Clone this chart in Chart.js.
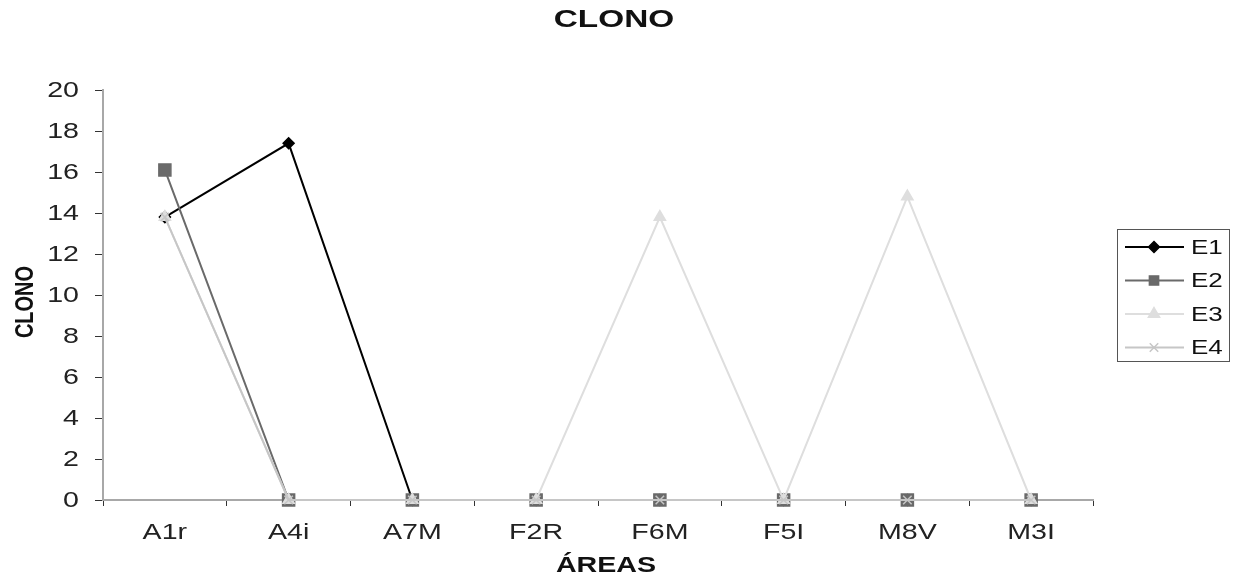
<!DOCTYPE html>
<html>
<head>
<meta charset="utf-8">
<script src="https://cdn.jsdelivr.net/npm/chart.js@4/dist/chart.umd.min.js"></script>
<style>
  html, body { margin: 0; padding: 0; background: #fff; }
  #wrap { width: 1233px; height: 576px; }
</style>
</head>
<body>
<div id="wrap"><canvas id="chart"></canvas></div>
<script>
// data
const areas = ["A1r", "A4i", "A7M", "F2R", "F6M", "F5I", "M8V", "M3I"];
const e1 = [13.8, 17.4, 0, 0, 0, 0, 0, 0];
const e2 = [16.1, 0, 0, 0, 0, 0, 0, 0];
const e3 = [13.8, 0, 0, 0, 13.8, 0, 14.8, 0];
const e4 = [13.8, 0, 0, 0, 0, 0, 0, 0];
const yTicks = [0, 2, 4, 6, 8, 10, 12, 14, 16, 18, 20];

const FONT = "'Liberation Sans', Arial, sans-serif";
const STRETCH = 1.3; // the reference text is drawn wide

const series = [
  { label: "E1", data: e1, color: "#000000", point: "rectRot", radius: 5.5, order: 3 },
  { label: "E2", data: e2, color: "#6a6a6a", point: "rect", radius: 8.5, order: 2 },
  { label: "E3", data: e3, color: "#dedede", point: "triangle", radius: 6.5, order: 1 },
  { label: "E4", data: e4, color: "#c6c6c6", point: "crossRot", radius: 6, order: 0 },
];

function wideText(ctx, text, x, y, align, font, sx) {
  ctx.save();
  ctx.translate(x, y);
  ctx.scale(sx, 1);
  ctx.font = font;
  ctx.textAlign = align;
  ctx.textBaseline = "middle";
  ctx.fillText(text, 0, 0);
  ctx.restore();
}

// labels, titles and legend, stretched like the reference
const textLayer = {
  id: "textLayer",
  afterDraw(chart) {
    const ctx = chart.ctx;
    const xs = chart.scales.x;
    const ys = chart.scales.y;
    ctx.save();
    ctx.fillStyle = "#222";

    xs.ticks.forEach((t, i) => {
      wideText(ctx, xs.getLabelForValue(t.value), xs.getPixelForTick(i), 533,
        "center", "22px " + FONT, STRETCH);
    });
    ys.ticks.forEach((t) => {
      wideText(ctx, String(t.value), 79, ys.getPixelForValue(t.value) + 1,
        "right", "22px " + FONT, STRETCH);
    });

    ctx.fillStyle = "#111";
    wideText(ctx, "CLONO", 614, 21, "center", "bold 23px " + FONT, 1.45);
    wideText(ctx, "ÁREAS", (xs.left + xs.right) / 2 + 8, 566, "center", "bold 22px " + FONT, STRETCH);

    // y axis title: rotated, glyphs widened across the page
    ctx.save();
    ctx.translate(26, 302);
    ctx.scale(STRETCH, 1);
    ctx.rotate(-Math.PI / 2);
    ctx.font = "bold 20px " + FONT;
    ctx.textAlign = "center";
    ctx.textBaseline = "middle";
    ctx.fillText("CLONO", 0, 0);
    ctx.restore();

    // legend box, using the datasets' own styles
    ctx.strokeStyle = "#555";
    ctx.lineWidth = 1;
    ctx.strokeRect(1117.5, 229.5, 112, 132);
    chart.data.datasets.forEach((ds, i) => {
      const y = 247 + i * 33.5;
      ctx.strokeStyle = ds.borderColor;
      ctx.lineWidth = 2;
      ctx.beginPath();
      ctx.moveTo(1125, y);
      ctx.lineTo(1184, y);
      ctx.stroke();
      ctx.fillStyle = ds.pointBackgroundColor;
      ctx.strokeStyle = ds.pointBorderColor;
      ctx.lineWidth = 1.5;
      Chart.helpers.drawPoint(ctx, {
        pointStyle: ds.pointStyle,
        radius: Math.min(ds.pointRadius, 6.5),
        rotation: 0,
        borderWidth: 1.5
      }, 1154, y);
      ctx.fillStyle = "#111";
      wideText(ctx, ds.label, 1191, y + 1, "left", "20px " + FONT, STRETCH);
    });
    ctx.restore();
  }
};

new Chart(document.getElementById("chart"), {
  type: "line",
  data: {
    labels: areas,
    datasets: series.map((s) => ({
      label: s.label,
      data: s.data,
      borderColor: s.color,
      backgroundColor: s.color,
      borderWidth: 2,
      pointStyle: s.point,
      pointRadius: s.radius,
      pointBackgroundColor: s.color,
      pointBorderColor: s.color,
      pointBorderWidth: 1.5,
      tension: 0,
      fill: false,
      clip: false,
      order: s.order,
    })),
  },
  options: {
    responsive: true,
    maintainAspectRatio: false,
    animation: false,
    layout: { padding: { left: 0, right: 140, top: 90, bottom: 0 } },
    plugins: {
      legend: { display: false },
      tooltip: { enabled: false },
      title: { display: false },
    },
    scales: {
      x: {
        offset: true,
        grid: {
          offset: true,
          drawOnChartArea: false,
          drawTicks: true,
          tickLength: 6,
          color: "#333",
        },
        border: { color: "#a8a8a8", width: 2 },
        ticks: { display: false, autoSkip: false },
        afterFit(scale) { scale.height = 76; },
      },
      y: {
        min: 0,
        max: 20,
        afterBuildTicks(scale) { scale.ticks = yTicks.map((v) => ({ value: v })); },
        grid: {
          drawOnChartArea: false,
          drawTicks: true,
          tickLength: 8,
          color: "#333",
        },
        border: { color: "#a8a8a8", width: 2 },
        ticks: { display: false, autoSkip: false },
        afterFit(scale) { scale.width = 103; },
      },
    },
  },
  plugins: [textLayer],
});
</script>
</body>
</html>
